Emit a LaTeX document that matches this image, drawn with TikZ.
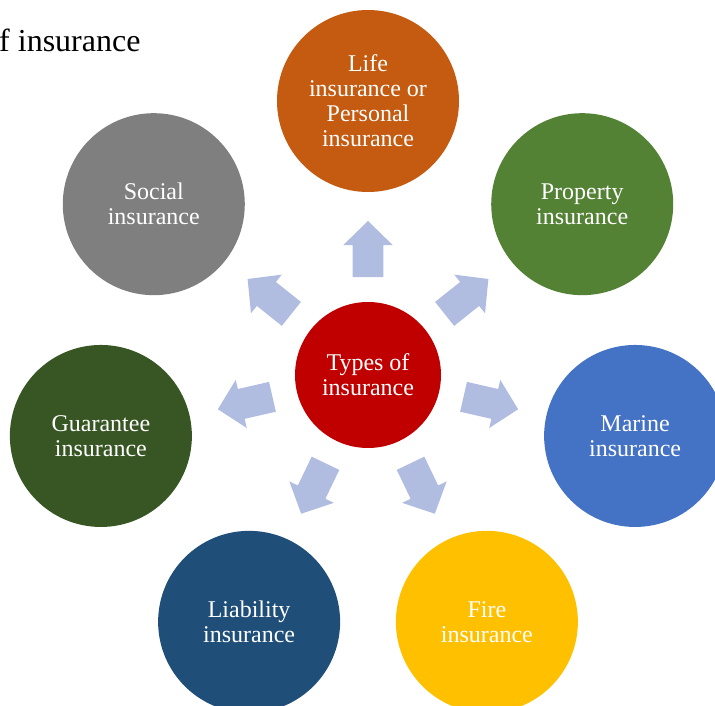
\documentclass[tikz,border=0pt]{standalone}
\usepackage{fontspec}
\setmainfont{Liberation Serif}
\usetikzlibrary{calc}
\definecolor{cLife}{HTML}{C55A11}
\definecolor{cProp}{HTML}{548235}
\definecolor{cMarine}{HTML}{4472C4}
\definecolor{cFire}{HTML}{FFC000}
\definecolor{cLiab}{HTML}{1F4E79}
\definecolor{cGuar}{HTML}{375623}
\definecolor{cSocial}{HTML}{7F7F7F}
\definecolor{cCenter}{HTML}{C00000}
\definecolor{cArrow}{HTML}{B0BDE0}
\tikzset{
  outer/.style={circle, minimum size=182pt, inner sep=0pt, text=white, align=center,
    font=\fontsize{24}{25}\selectfont},
  hub/.style={circle, minimum size=146pt, inner sep=0pt, text=white, align=center,
    font=\fontsize{24}{25}\selectfont, fill=cCenter},
  blockarrow/.style={fill=cArrow, draw=none}
}
\begin{document}
\begin{tikzpicture}[x=1pt,y=1pt]
\useasboundingbox (0,0) rectangle (715,-706);
\node[anchor=base west, font=\fontsize{32}{36}\selectfont, inner sep=0pt] (title) at (-1,-52) {f insurance};
\node[hub] (c) at (368,-375) {Types of\\insurance};
\node[outer, fill=cLife]   (life)   at ($(c)+(90:274)$) {Life\\insurance or\\Personal\\insurance};
\node[outer, fill=cProp]   (prop)   at ($(c)+(38.571:274)$) {Property\\insurance};
\node[outer, fill=cMarine] (marine) at ($(c)+(-12.857:274)$) {Marine\\insurance};
\node[outer, fill=cFire]   (fire)   at ($(c)+(-64.286:274)$) {Fire\\insurance};
\node[outer, fill=cLiab]   (liab)   at ($(c)+(-115.714:274)$) {Liability\\insurance};
\node[outer, fill=cGuar]   (guar)   at ($(c)+(-167.143:274)$) {Guarantee\\insurance};
\node[outer, fill=cSocial] (social) at ($(c)+(141.429:274)$) {Social\\insurance};
\foreach \a in {90,38.571,-12.857,-64.286,-115.714,-167.143,141.429}{
  \begin{scope}[shift={(c.center)}, rotate=\a]
    \fill[blockarrow] (98,-15.3) -- (130,-15.3) -- (130,-24.7) -- (154,0) -- (130,24.7) -- (130,15.3) -- (98,15.3) -- cycle;
  \end{scope}
}
\end{tikzpicture}
\end{document}
